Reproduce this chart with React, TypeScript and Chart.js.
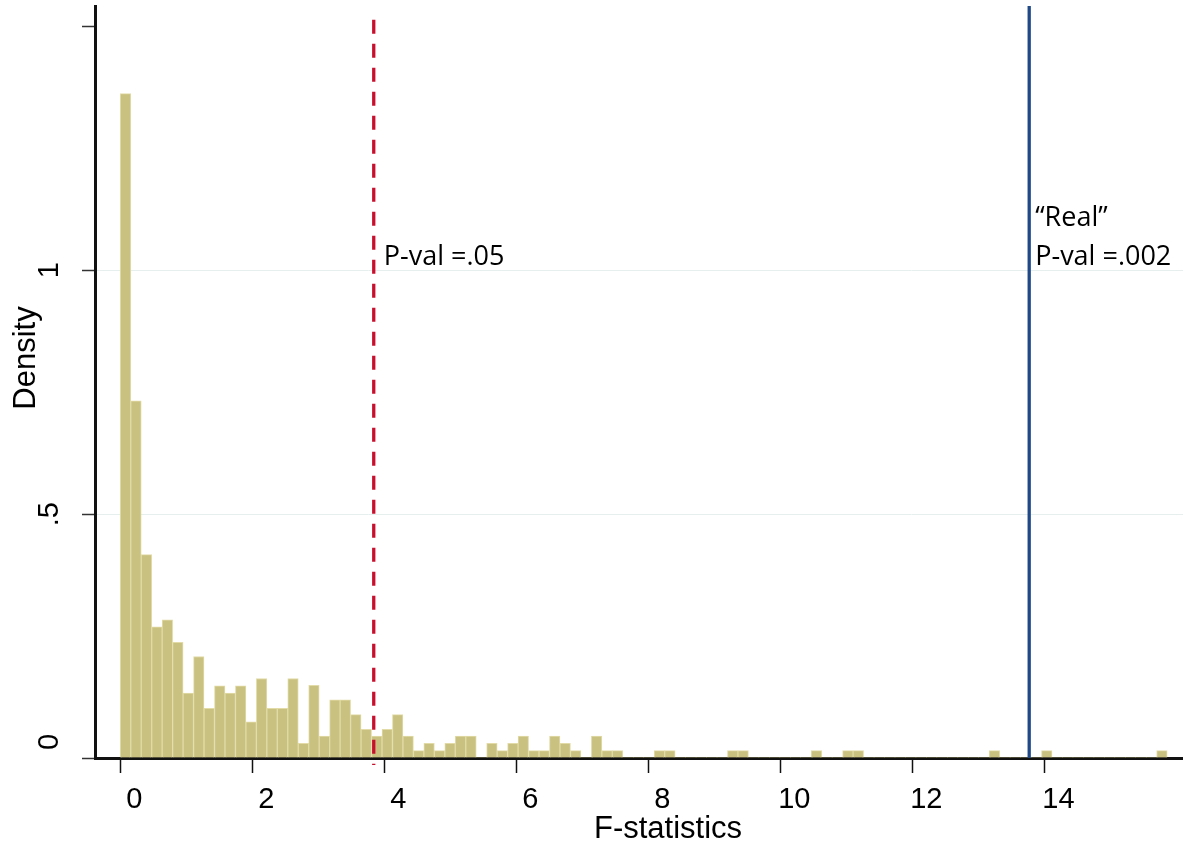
import { useEffect, useRef } from "react";
import { Chart, registerables } from "chart.js";

Chart.register(...registerables);

// Histogram: 100 bins starting at 0
const binStart = 0;
const binWidth = 0.1586;
const density = [
  1.362, 0.732, 0.417, 0.269, 0.283, 0.237, 0.133, 0.208, 0.102, 0.148,
  0.133, 0.148, 0.074, 0.163, 0.102, 0.102, 0.163, 0.030, 0.149, 0.045,
  0.119, 0.119, 0.089, 0.059, 0.045, 0.059, 0.089, 0.045, 0.015, 0.030,
  0.015, 0.030, 0.045, 0.045, 0, 0.030, 0.015, 0.030, 0.045, 0.015,
  0.015, 0.045, 0.030, 0.015, 0, 0.045, 0.015, 0.015, 0, 0,
  0, 0.015, 0.015, 0, 0, 0, 0, 0, 0.015, 0.015,
  0, 0, 0, 0, 0, 0, 0.015, 0, 0, 0.015,
  0.015, 0, 0, 0, 0, 0, 0, 0, 0, 0,
  0, 0, 0, 0.015, 0, 0, 0, 0, 0.015, 0,
  0, 0, 0, 0, 0, 0, 0, 0, 0, 0.015,
];

const xTicks = [0, 2, 4, 6, 8, 10, 12, 14];
const xTickLabels = ["0", "2", "4", "6", "8", "10", "12", "14"];
const yTicks = [0, 0.5, 1, 1.5];
const yTickLabels = ["    0", ".5", "1", ""];

const xTitle = "F-statistics";
const yTitle = "Density";

const critValue = 3.84;
const realValue = 13.77;
const critLabel = ["P-val =.05"];
const realLabel = ["\u201CReal\u201D", "P-val =.002"];

const xMin = -0.383;
const xMax = 16.1;
const yMin = 0;
const yMax = 1.5416;

const barFill = "#c9c17f";
const barEdge = "#e2dba8";
const critColor = "#c8102e";
const realColor = "#1f4a87";

export default function App() {
  const ref = useRef<HTMLCanvasElement | null>(null);

  useEffect(() => {
    if (!ref.current) return;

    const textPlugin = {
      id: "texts",
      afterDraw(chart: any) {
        const ctx = chart.ctx;
        const xs = chart.scales.x;
        const ys = chart.scales.y;
        ctx.save();
        ctx.fillStyle = "#000";
        // axis titles
        ctx.font = "31px 'Liberation Sans', Arial, sans-serif";
        ctx.textAlign = "left";
        ctx.textBaseline = "alphabetic";
        ctx.fillText(xTitle, 594, 838);
        ctx.save();
        ctx.translate(35, 358);
        ctx.rotate(-Math.PI / 2);
        ctx.textAlign = "center";
        ctx.fillText(yTitle, 0, 0);
        ctx.restore();
        // annotations
        ctx.font = "27px 'Open Sans', 'Noto Sans', sans-serif";
        ctx.textAlign = "left";
        const cx = xs.getPixelForValue(critValue) + 10;
        const rx = xs.getPixelForValue(realValue) + 6;
        const base1 = ys.getPixelForValue(1) - 5;
        critLabel.forEach((t, i) => ctx.fillText(t, cx, base1 + i * 39));
        realLabel.forEach((t, i) =>
          ctx.fillText(t, rx, base1 - (realLabel.length - 1 - i) * 39)
        );
        ctx.restore();
      },
    };

    const chart = new Chart(ref.current, {
      type: "bar",
      data: {
        datasets: [
          {
            type: "line",
            data: [
              { x: critValue, y: 1.5135 },
              { x: critValue, y: -0.0144 },
            ],
            borderColor: critColor,
            borderWidth: 3.3,
            borderDash: [14, 10],
            pointRadius: 0,
            fill: false,
            clip: false,
            order: 1,
          } as any,
          {
            type: "line",
            data: [
              { x: realValue, y: yMax },
              { x: realValue, y: 0 },
            ],
            borderColor: realColor,
            borderWidth: 3.3,
            pointRadius: 0,
            fill: false,
            clip: false,
            order: 1,
          } as any,
          {
            type: "bar",
            data: density.map((d, i) => ({
              x: binStart + (i + 0.5) * binWidth,
              y: d,
            })),
            backgroundColor: barFill,
            borderColor: barEdge,
            borderWidth: (c: any) => (c.raw && c.raw.y > 0 ? 1 : 0),
            borderSkipped: "start",
            barPercentage: 1,
            categoryPercentage: 1,
            order: 2,
          } as any,
        ],
      },
      options: {
        responsive: false,
        animation: false,
        events: [],
        layout: { padding: { top: 6, left: 0, right: 0, bottom: 0 } },
        plugins: {
          legend: { display: false },
          tooltip: { enabled: false },
          title: { display: false },
        },
        scales: {
          x: {
            type: "linear",
            min: xMin,
            max: xMax,
            offset: false,
            afterBuildTicks: (s: any) => {
              s.ticks = xTicks.map((v) => ({ value: v }));
            },
            afterFit: (s: any) => {
              s.height = 89;
              s.paddingLeft = 0;
              s.paddingRight = 0;
            },
            border: { display: true, color: "#111", width: 3 },
            grid: {
              display: true,
              offset: false,
              drawOnChartArea: false,
              drawTicks: true,
              tickLength: 15,
              tickColor: "#111",
              tickWidth: 1.5,
            },
            ticks: {
              autoSkip: false,
              maxRotation: 0,
              minRotation: 0,
              color: "#000",
              padding: 10,
              labelOffset: 14,
              font: { family: "'Liberation Sans', Arial, sans-serif", size: 29 },
              callback: (v: any) => {
                const i = xTicks.indexOf(Number(v));
                return i >= 0 ? xTickLabels[i] : "";
              },
            },
          },
          y: {
            type: "linear",
            min: yMin,
            max: yMax,
            afterBuildTicks: (s: any) => {
              s.ticks = yTicks.map((v) => ({ value: v }));
            },
            afterFit: (s: any) => {
              s.width = 95;
              s.paddingTop = 0;
              s.paddingBottom = 0;
            },
            border: { display: true, color: "#111", width: 3 },
            grid: {
              display: true,
              drawOnChartArea: true,
              drawTicks: true,
              tickLength: 13,
              tickColor: "#333",
              tickWidth: 1.5,
              color: (c: any) =>
                c.tick && (c.tick.value === 0.5 || c.tick.value === 1)
                  ? "#e6eeee"
                  : "rgba(0,0,0,0)",
              lineWidth: 1,
            },
            ticks: {
              autoSkip: false,
              minRotation: 90,
              maxRotation: 90,
              crossAlign: "center",
              padding: 8,
              color: "#000",
              font: { family: "'Liberation Sans', Arial, sans-serif", size: 29 },
              callback: (v: any) => {
                const i = yTicks.indexOf(Number(v));
                return i >= 0 ? yTickLabels[i] : "";
              },
            },
          },
        },
      } as any,
      plugins: [textPlugin],
    });

    return () => chart.destroy();
  }, []);

  return (
    <div
      style={{
        position: "fixed",
        left: 0,
        top: 0,
        width: 1183,
        height: 847,
        background: "#fff",
      }}
    >
      <canvas
        ref={ref}
        width={1183}
        height={847}
        style={{ display: "block", width: 1183, height: 847 }}
      />
    </div>
  );
}
